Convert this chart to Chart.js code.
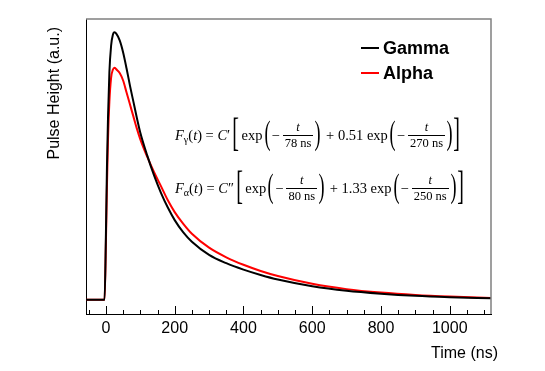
<!DOCTYPE html>
<html>
<head>
<meta charset="utf-8">
<script src="https://cdn.jsdelivr.net/npm/chart.js@4.4.1/dist/chart.umd.min.js"></script>
<style>
  html, body { margin:0; padding:0; background:#fff; }
  #wrap { position:relative; width:545px; height:371px; }
  .eq { position:absolute; left:175px; height:40px; display:flex; align-items:center; gap:3px;
        font-family:"Liberation Serif","DejaVu Serif",serif; font-size:14.5px; color:#000; white-space:nowrap; }
  .eq sub { font-size:10px; vertical-align:-3px; line-height:0; }
  .frac { display:inline-flex; flex-direction:column; align-items:center; font-size:12.5px; }
  .frac span { line-height:1.15; padding:0 2px; }
  .frac .den { border-top:1px solid #000; }
  .pr { font-size:33px; line-height:1; display:inline-block; transform:scaleX(0.55); margin:0 -4px; position:relative; top:-2px; }
  .bk { font-size:40px; line-height:1; display:inline-block; transform:scaleX(0.5); margin:0 -4px; position:relative; top:-2px; }
</style>
</head>
<body>
<div id="wrap">
  <canvas id="chart" width="545" height="371"></canvas>
  <div class="eq" style="top:115px">
    <span><i>F</i><sub>γ</sub>(<i>t</i>) = <i>C</i>′</span>
    <span class="bk">[</span><span>exp</span><span class="pr">(</span><span>−</span>
    <span class="frac"><span><i>t</i></span><span class="den">78 ns</span></span>
    <span class="pr">)</span><span>&nbsp;+ 0.51 exp</span><span class="pr">(</span><span>−</span>
    <span class="frac"><span><i>t</i></span><span class="den">270 ns</span></span>
    <span class="pr">)</span><span class="bk">]</span>
  </div>
  <div class="eq" style="top:168px">
    <span><i>F</i><sub>α</sub>(<i>t</i>) = <i>C</i>″</span>
    <span class="bk">[</span><span>exp</span><span class="pr">(</span><span>−</span>
    <span class="frac"><span><i>t</i></span><span class="den">80 ns</span></span>
    <span class="pr">)</span><span>&nbsp;+ 1.33 exp</span><span class="pr">(</span><span>−</span>
    <span class="frac"><span><i>t</i></span><span class="den">250 ns</span></span>
    <span class="pr">)</span><span class="bk">]</span>
  </div>
</div>
<script>
// time axis (ns) and pulse shapes, normalised to the gamma peak
const timeNs = [-58, -4, 0, 3, 6, 10, 15, 20, 25, 30, 40, 50, 60, 70, 80, 90, 100, 120, 140, 160,
                180, 200, 225, 250, 300, 350, 400, 450, 500, 600, 700, 800, 900, 1000, 1120];
const gamma  = [0, 0, 0.25, 0.5, 0.68, 0.85, 0.95, 0.99, 1.0, 0.995, 0.97, 0.925, 0.865, 0.80, 0.74, 0.68, 0.625, 0.54, 0.465, 0.40,
                0.345, 0.298, 0.252, 0.217, 0.168, 0.137, 0.113, 0.093, 0.076, 0.051, 0.034, 0.023, 0.015, 0.010, 0.006];
const alpha  = [0, 0, 0.22, 0.43, 0.6, 0.74, 0.83, 0.86, 0.868, 0.862, 0.848, 0.82, 0.775, 0.73, 0.685, 0.64, 0.60, 0.535, 0.477, 0.425,
                0.372, 0.328, 0.284, 0.247, 0.195, 0.159, 0.131, 0.108, 0.089, 0.060, 0.040, 0.027, 0.018, 0.012, 0.007];
const xTicks = [0, 200, 400, 600, 800, 1000];
const xMinorStep = 50;
const xTitle = 'Time (ns)';
const yTitle = 'Pulse Height (a.u.)';

const toPoints = ys => timeNs.map((t, i) => ({x: t, y: ys[i]}));
const sans = '"Liberation Sans", Arial, sans-serif';

// legend drawn inside the frame, top right
const legendBox = {
  id: 'legendBox',
  afterDatasetsDraw(chart){
    const {ctx, chartArea: a} = chart;
    ctx.save();
    ctx.font = 'bold 18px ' + sans;
    ctx.textBaseline = 'middle';
    chart.data.datasets.forEach((ds, i) => {
      const x = a.right - 130, y = a.top + 29 + i * 25;
      ctx.strokeStyle = ds.borderColor; ctx.lineWidth = 2;
      ctx.beginPath(); ctx.moveTo(x, y); ctx.lineTo(x + 18, y); ctx.stroke();
      ctx.fillStyle = '#000';
      ctx.fillText(ds.label, x + 22, y + 1);
    });
    ctx.restore();
  }
};

// grey frame on top/right, inward ticks on the time axis, axis titles
const frameTicks = {
  id: 'frameTicks',
  afterDraw(chart){
    const {ctx, chartArea: a, scales: {x}} = chart;
    ctx.save();
    ctx.strokeStyle = '#808080'; ctx.lineWidth = 1.5;
    ctx.beginPath(); ctx.moveTo(a.left, a.top); ctx.lineTo(a.right, a.top); ctx.lineTo(a.right, a.bottom); ctx.stroke();
    ctx.strokeStyle = '#000'; ctx.lineWidth = 1;
    const start = Math.ceil(x.min / xMinorStep) * xMinorStep;
    for(let v = start; v <= x.max; v += xMinorStep){
      const px = Math.round(x.getPixelForValue(v)) + 0.5;
      const len = xTicks.includes(v) ? 8 : 4;
      ctx.beginPath(); ctx.moveTo(px, a.bottom); ctx.lineTo(px, a.bottom - len); ctx.stroke();
    }
    ctx.fillStyle = '#000';
    ctx.font = '16px ' + sans;
    ctx.textBaseline = 'middle';
    ctx.textAlign = 'right';
    ctx.fillText(xTitle, a.right + 7, a.bottom + 40);
    ctx.translate(a.left - 31, a.top + 8);
    ctx.rotate(-Math.PI / 2);
    ctx.fillText(yTitle, 0, 0);
    ctx.restore();
  }
};

new Chart(document.getElementById('chart').getContext('2d'), {
  type: 'line',
  data: {
    datasets: [
      { label: 'Gamma', data: toPoints(gamma), borderColor: '#000000', borderWidth: 2, pointRadius: 0, cubicInterpolationMode: 'monotone', fill: false },
      { label: 'Alpha', data: toPoints(alpha), borderColor: '#ff0000', borderWidth: 2, pointRadius: 0, cubicInterpolationMode: 'monotone', fill: false }
    ]
  },
  options: {
    responsive: false,
    animation: false,
    devicePixelRatio: 1,
    layout: { padding: { left: 86, right: 54, top: 19, bottom: 27.8 } },
    plugins: { legend: { display: false }, tooltip: { enabled: false } },
    scales: {
      x: {
        type: 'linear', min: -58, max: 1120,
        afterBuildTicks: s => { s.ticks = xTicks.map(v => ({value: v})); },
        ticks: { color: '#000', padding: 5, maxRotation: 0, callback: v => String(v), font: { family: sans, size: 16 } },
        grid: { display: false, drawTicks: false },
        border: { display: true, color: '#000', width: 1 }
      },
      y: {
        min: -0.053, max: 1.05,
        ticks: { display: false },
        grid: { display: false, drawTicks: false },
        border: { display: true, color: '#000', width: 1 }
      }
    }
  },
  plugins: [legendBox, frameTicks]
});
</script>
</body>
</html>
